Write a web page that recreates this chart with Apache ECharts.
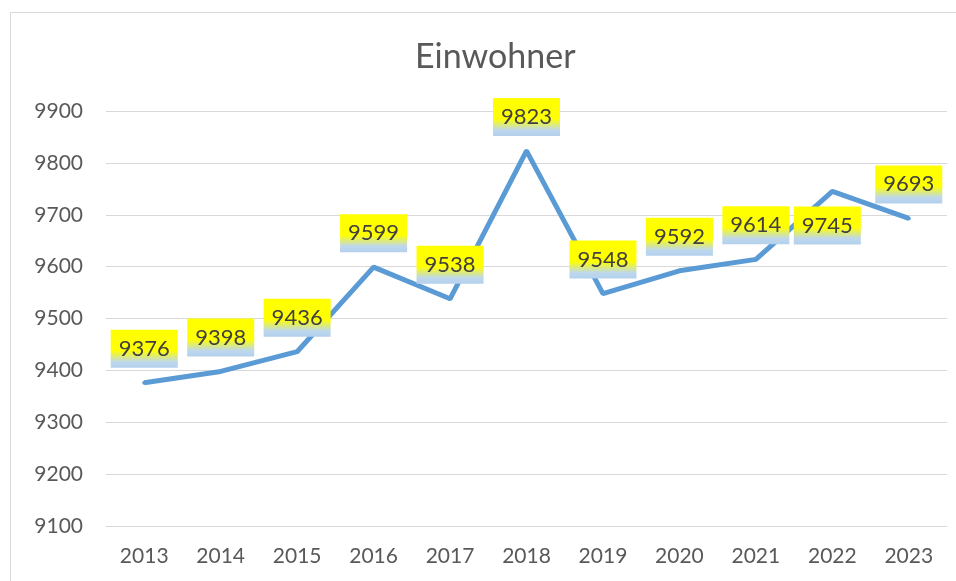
<!DOCTYPE html>
<html lang="de">
<head>
    <meta charset="UTF-8">
    <title>Einwohner</title>
    <script src="https://cdn.jsdelivr.net/npm/echarts@6/dist/echarts.min.js"></script>
    <style>
        html, body { margin: 0; padding: 0; background: #fff; }
        #chart { width: 956px; height: 581px; }
    </style>
</head>
<body>
<div id="chart"></div>
<script>
    var years = ['2013', '2014', '2015', '2016', '2017', '2018', '2019', '2020', '2021', '2022', '2023'];
    var einwohner = [9376, 9398, 9436, 9599, 9538, 9823, 9548, 9592, 9614, 9745, 9693];
    var yTicks = [9100, 9200, 9300, 9400, 9500, 9600, 9700, 9800, 9900];

    var font = 'Lato, "Open Sans", sans-serif';

    // Excel-like label fill: yellow on top fading into light blue
    var labelFill = new echarts.graphic.LinearGradient(0, 0, 0, 1, [
        {offset: 0, color: '#FFFF00'},
        {offset: 0.55, color: '#FFFF00'},
        {offset: 0.85, color: '#BDD7EE'},
        {offset: 1, color: '#B4D0EC'}
    ]);

    var points = einwohner.map(function (v, i) {
        var p = {value: v};
        // 2022 label sits below the point in the original
        if (years[i] === '2022') {
            p.label = {position: 'bottom', offset: [-5, 0]};
        }
        return p;
    });

    var chart = echarts.init(document.getElementById('chart'));

    var option = {
        animation: false,
        backgroundColor: '#fff',
        graphic: [{
            type: 'rect',
            shape: {x: 10.5, y: 12.5, width: 1000, height: 700},
            style: {fill: 'none', stroke: '#D9D9D9', lineWidth: 1},
            silent: true
        }],
        title: {
            text: 'Einwohner',
            left: 410,
            top: 35,
            textStyle: {
                fontFamily: font,
                fontSize: 34,
                fontWeight: 'normal',
                color: '#595959'
            }
        },
        grid: {
            left: 106,
            right: 9,
            top: 111,
            bottom: 55
        },
        xAxis: {
            type: 'category',
            data: years,
            boundaryGap: true,
            axisLine: {show: false},
            axisTick: {show: false},
            axisLabel: {
                margin: 20,
                fontFamily: font,
                fontSize: 21,
                color: '#595959'
            }
        },
        yAxis: {
            type: 'value',
            min: yTicks[0],
            max: yTicks[yTicks.length - 1],
            interval: 100,
            axisLine: {show: false},
            axisTick: {show: false},
            axisLabel: {
                margin: 23,
                fontFamily: font,
                fontSize: 21,
                color: '#595959',
                formatter: function (v) { return String(v); }
            },
            splitLine: {
                lineStyle: {color: '#D9D9D9', width: 1}
            }
        },
        series: [{
            name: 'Einwohner',
            type: 'line',
            data: points,
            symbol: 'circle',
            symbolSize: 4,
            itemStyle: {color: '#5B9BD5'},
            lineStyle: {color: '#5B9BD5', width: 5},
            label: {
                show: true,
                position: 'top',
                distance: 13,
                fontFamily: font,
                fontSize: 22,
                lineHeight: 22,
                color: '#404040',
                backgroundColor: labelFill,
                padding: [8, 8]
            }
        }]
    };

    chart.setOption(option);
</script>
</body>
</html>
